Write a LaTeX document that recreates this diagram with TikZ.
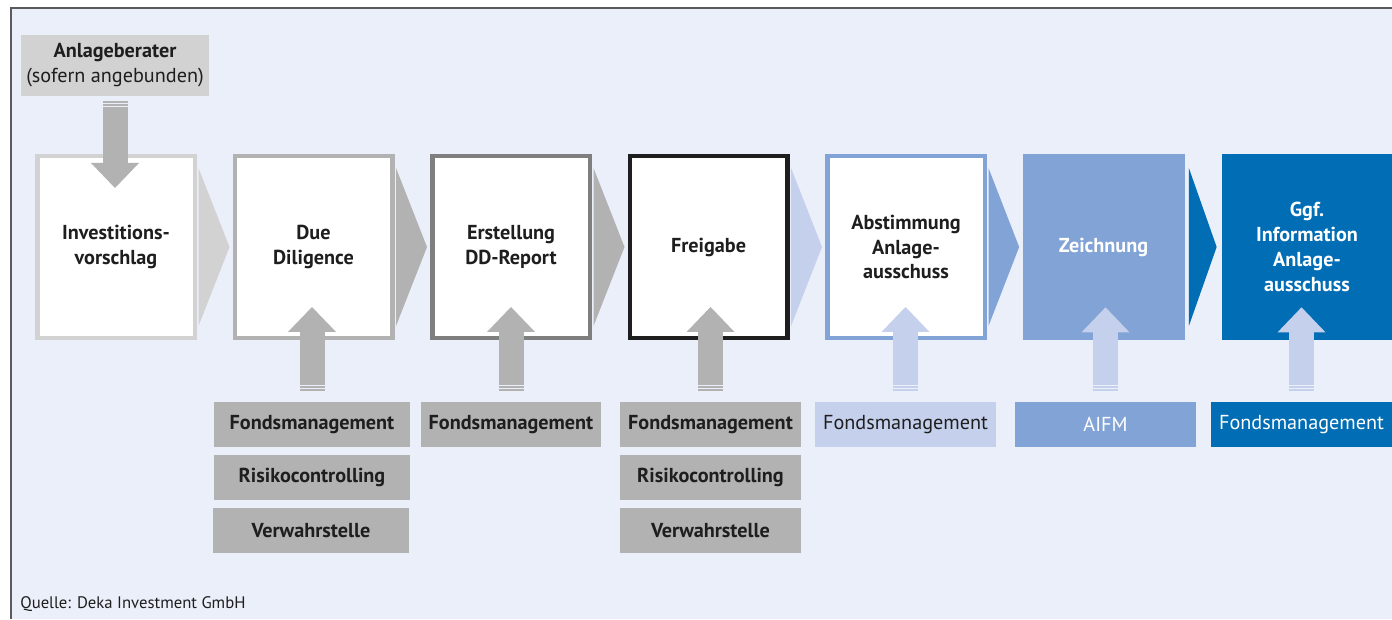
\documentclass[tikz,border=0pt]{standalone}
\usepackage{fontspec}
\setmainfont{PT Sans}
\usetikzlibrary{positioning,calc,arrows.meta}

\definecolor{pagebg}{HTML}{EBEFFA}
\definecolor{grayL}{HTML}{D2D2D2}
\definecolor{grayM}{HTML}{B2B2B2}
\definecolor{grayD}{HTML}{7F7F7F}
\definecolor{inkdark}{HTML}{1E1E1E}
\definecolor{blueL}{HTML}{C5D0EC}
\definecolor{blueM}{HTML}{82A3D6}
\definecolor{blueD}{HTML}{006DB5}
\definecolor{framegray}{HTML}{5A5A5A}

\begin{document}
\begin{tikzpicture}[
    stage/.style={
        rectangle,
        fill=white,
        line width=0.09cm,
        minimum width=3.15cm,
        minimum height=3.63cm,
        align=center,
        inner sep=0pt,
        text=inkdark,
        font=\bfseries\fontsize{11.5}{14.2}\selectfont
    },
    stagefill/.style={
        rectangle,
        minimum width=3.24cm,
        minimum height=3.72cm,
        align=center,
        inner sep=0pt,
        text=white,
        font=\bfseries\fontsize{11.5}{14.2}\selectfont
    },
    unit/.style={
        rectangle,
        minimum height=0.9cm,
        inner sep=0pt,
        text=inkdark,
        font=\fontsize{11.5}{14.2}\selectfont
    },
    push/.style={
        draw=#1,
        line width=0.5cm,
        -{Triangle[length=0.5cm 0, width=0.96cm 0, line width=0pt 0]},
        postaction={draw=pagebg, -, dash pattern=on 0pt off 0.026cm on 0.034cm off 0.026cm on 0.034cm off 30cm}
    }
]

% Frame and page
\useasboundingbox (0,0) rectangle (27.84,12.38);
\fill[white] (0,0) rectangle (27.84,12.38);
\fill[pagebg] (0.22,0) rectangle (27.84,12.22);
\draw[framegray, line width=0.03cm] (0.22,0) -- (0.22,12.22) -- (27.84,12.22);

% Process stages
\node[stage, draw=grayL] (b1) at (2.32, 7.44) {Investitions-\\vorschlag};
\node[stage, draw=grayM] (b2) at (6.27, 7.44) {Due\\Diligence};
\node[stage, draw=grayD] (b3) at (10.22, 7.44) {Erstellung\\DD-Report};
\node[stage, draw=inkdark] (b4) at (14.17, 7.44) {Freigabe};
\node[stage, draw=blueM] (b5) at (18.12, 7.44) {Abstimmung\\Anlage-\\ausschuss};
\node[stagefill, fill=blueM] (b6) at (22.07, 7.44) {Zeichnung};
\node[stagefill, fill=blueD, minimum width=3.40cm] (b7) at (26.14, 7.44) {Ggf.\\Information\\Anlage-\\ausschuss};

% Chevrons between stages
\fill[grayL] ($(b1.east)+(0.03,1.58)$) -- ($(b2.west)+(-0.06,0)$) -- ($(b1.east)+(0.03,-1.58)$) -- cycle;
\fill[grayM] ($(b2.east)+(0.03,1.58)$) -- ($(b3.west)+(-0.06,0)$) -- ($(b2.east)+(0.03,-1.58)$) -- cycle;
\fill[grayM] ($(b3.east)+(0.03,1.58)$) -- ($(b4.west)+(-0.06,0)$) -- ($(b3.east)+(0.03,-1.58)$) -- cycle;
\fill[blueL] ($(b4.east)+(0.03,1.58)$) -- ($(b5.west)+(-0.06,0)$) -- ($(b4.east)+(0.03,-1.58)$) -- cycle;
\fill[blueM] ($(b5.east)+(0.03,1.58)$) -- ($(b6.west)+(-0.06,0)$) -- ($(b5.east)+(0.03,-1.58)$) -- cycle;
\fill[blueD] ($(b6.east)+(0.08,1.58)$) -- ($(b7.west)+(-0.1,0)$) -- ($(b6.east)+(0.08,-1.58)$) -- cycle;

% Advisor on top
\node[unit, fill=grayL, minimum width=3.76cm, minimum height=1.22cm, align=center] (adv) at (2.30, 11.07)
    {\textbf{Anlageberater}\\(sofern angebunden)};

% Involved units below
\node[unit, fill=grayM, minimum width=3.92cm, font=\bfseries\fontsize{11.5}{14.2}\selectfont] (l2a) at (6.24, 3.89) {Fondsmanagement};
\node[unit, fill=grayM, minimum width=3.92cm, font=\bfseries\fontsize{11.5}{14.2}\selectfont] (l2b) at (6.24, 2.83) {Risikocontrolling};
\node[unit, fill=grayM, minimum width=3.92cm, font=\bfseries\fontsize{11.5}{14.2}\selectfont] (l2c) at (6.22, 1.77) {Verwahrstelle};
\node[unit, fill=grayM, minimum width=3.60cm, font=\bfseries\fontsize{11.5}{14.2}\selectfont] (l3a) at (10.22, 3.89) {Fondsmanagement};
\node[unit, fill=grayM, minimum width=3.62cm, font=\bfseries\fontsize{11.5}{14.2}\selectfont] (l4a) at (14.21, 3.89) {Fondsmanagement};
\node[unit, fill=grayM, minimum width=3.62cm, font=\bfseries\fontsize{11.5}{14.2}\selectfont] (l4b) at (14.21, 2.83) {Risikocontrolling};
\node[unit, fill=grayM, minimum width=3.62cm, font=\bfseries\fontsize{11.5}{14.2}\selectfont] (l4c) at (14.21, 1.77) {Verwahrstelle};
\node[unit, fill=blueL, minimum width=3.62cm] (l5a) at (18.11, 3.89) {Fondsmanagement};
\node[unit, fill=blueM, minimum width=3.62cm, text=white] (l6a) at (22.11, 3.89) {AIFM};
\node[unit, fill=blueD, minimum width=3.62cm, text=white] (l7a) at (26.03, 3.89) {Fondsmanagement};

% Arrows into the stages
\draw[push=grayM] ([yshift=-0.1cm]adv.south) -- ($(adv.south |- b1.north)+(0,-0.68)$);
\draw[push=grayM] ([yshift=0.22cm]l2a.north) -- ($(l2a.north |- b2.south)+(0,0.66)$);
\draw[push=grayM] ([yshift=0.22cm]l3a.north) -- ($(l3a.north |- b3.south)+(0,0.66)$);
\draw[push=grayM] ([yshift=0.22cm]l4a.north) -- ($(l4a.north |- b4.south)+(0,0.66)$);
\draw[push=blueL] ([yshift=0.22cm]l5a.north) -- ($(l5a.north |- b5.south)+(0,0.66)$);
\draw[push=blueL] ([yshift=0.22cm]l6a.north) -- ($(l6a.north |- b6.south)+(0,0.66)$);
\draw[push=blueL] ([yshift=0.22cm]l7a.north) -- ($(l7a.north |- b7.south)+(0,0.66)$);

% Source
\node[anchor=base west, inner sep=0pt, text=inkdark, font=\fontsize{9.5}{11}\selectfont] (src) at (0.40, 0.22) {Quelle: Deka Investment GmbH};

\end{tikzpicture}
\end{document}
